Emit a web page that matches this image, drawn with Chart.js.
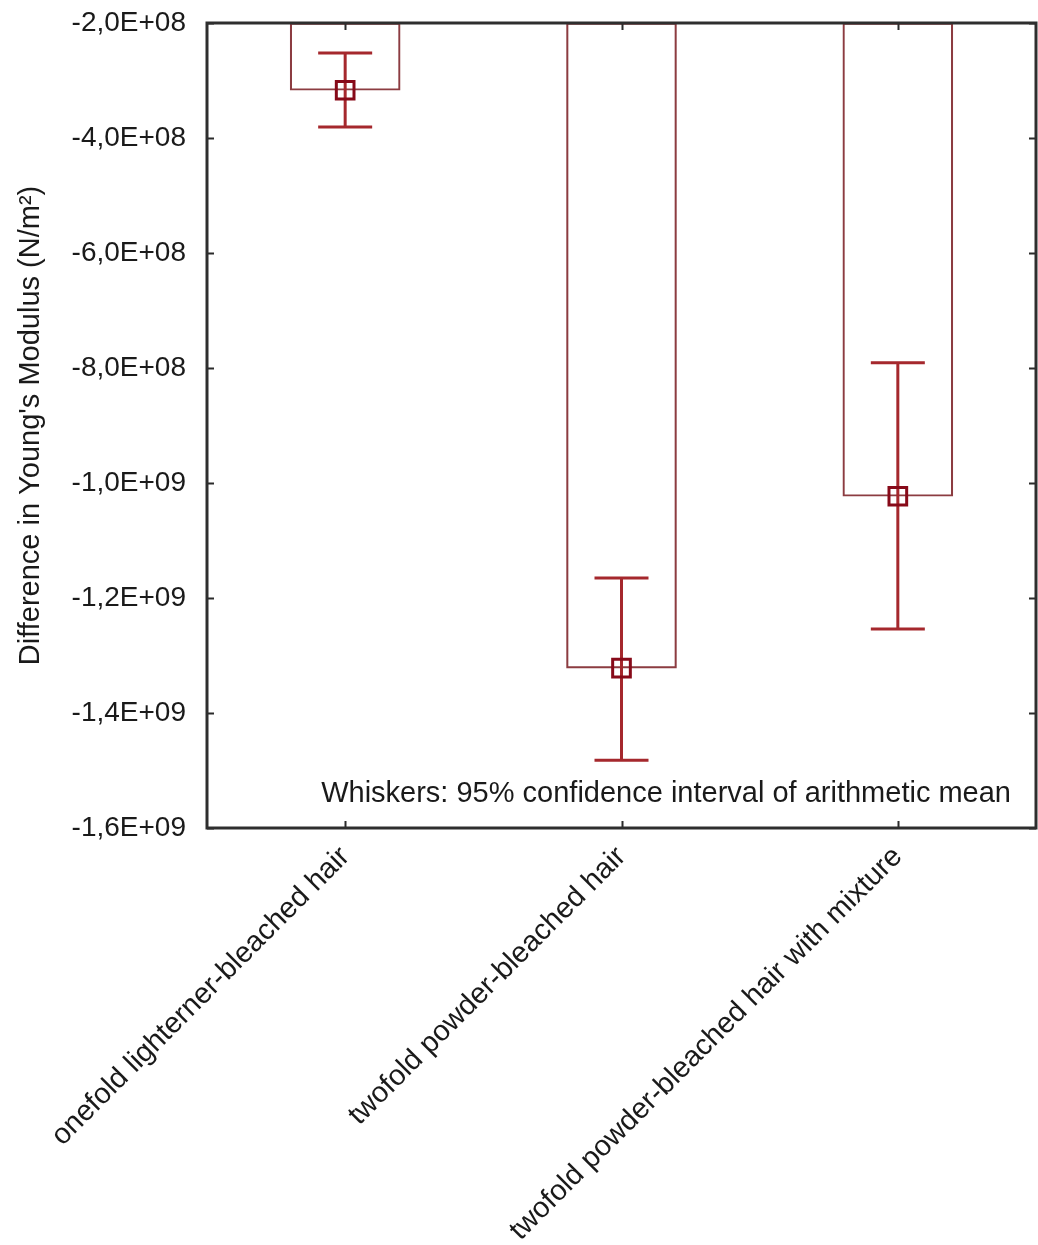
<!DOCTYPE html>
<html><head><meta charset="utf-8">
<script src="https://cdn.jsdelivr.net/npm/chart.js@4.4.0/dist/chart.umd.min.js"></script>
<style>html,body{margin:0;padding:0;background:#fff;} #wrap{width:1038px;height:1245px;position:relative;}</style>
</head><body><div id="wrap"><canvas id="c" width="1038" height="1245"></canvas></div>
<script>
const categories = ['onefold lighterner-bleached hair', 'twofold powder-bleached hair', 'twofold powder-bleached hair with mixture'];
const means = [-3.17e8, -1.322e9, -1.023e9];
const ciLower = [-3.81e8, -1.482e9, -1.254e9];
const ciUpper = [-2.52e8, -1.165e9, -7.91e8];
const yTickValues = [-1.6e9, -1.4e9, -1.2e9, -1.0e9, -8e8, -6e8, -4e8, -2e8];
const yTickLabels = ['-1,6E+09', '-1,4E+09', '-1,2E+09', '-1,0E+09', '-8,0E+08', '-6,0E+08', '-4,0E+08', '-2,0E+08'];
const yTitle = "Difference in Young's Modulus (N/m\u00B2)";
const note = 'Whiskers: 95% confidence interval of arithmetic mean';

const FONT = "'Liberation Sans', Arial, sans-serif";
const yMin = Math.min(...yTickValues), yMax = Math.max(...yTickValues);

const framePlugin = {
  id: 'frame',
  beforeDatasetDraw(chart, args) {
    if (args.index !== 1) return;
    const ctx = chart.ctx, x = chart.scales.x, y = chart.scales.y;
    ctx.save();
    ctx.strokeStyle = 'rgb(165,40,45)';
    ctx.lineWidth = 3;
    ctx.lineCap = 'butt';
    for (let i = 0; i < categories.length; i++) {
      const px = x.getPixelForValue(i);
      const top = y.getPixelForValue(ciUpper[i]);
      const bot = y.getPixelForValue(ciLower[i]);
      ctx.beginPath();
      ctx.moveTo(px, top); ctx.lineTo(px, bot);
      ctx.moveTo(px - 27, top); ctx.lineTo(px + 27, top);
      ctx.moveTo(px - 27, bot); ctx.lineTo(px + 27, bot);
      ctx.stroke();
    }
    ctx.restore();
  },
  afterDraw(chart) {
    const ctx = chart.ctx, a = chart.chartArea, x = chart.scales.x, y = chart.scales.y;
    ctx.save();
    ctx.strokeStyle = '#2b2b2b';
    ctx.lineWidth = 2;
    ctx.beginPath();
    y.ticks.forEach((t, i) => {
      const py = Math.round(y.getPixelForTick(i)) + 0.5;
      ctx.moveTo(a.left, py); ctx.lineTo(a.left + 7, py);
      ctx.moveTo(a.right, py); ctx.lineTo(a.right - 7, py);
    });
    x.ticks.forEach((t, i) => {
      const px = Math.round(x.getPixelForTick(i)) + 0.5;
      ctx.moveTo(px, a.bottom); ctx.lineTo(px, a.bottom - 7);
      ctx.moveTo(px, a.top); ctx.lineTo(px, a.top + 7);
    });
    ctx.stroke();
    ctx.lineWidth = 3;
    ctx.strokeStyle = '#2e2e2e';
    ctx.strokeRect(a.left, a.top, a.right - a.left, a.bottom - a.top);
    ctx.fillStyle = '#1a1a1a';
    ctx.font = '29px ' + FONT;
    ctx.textAlign = 'right';
    ctx.textBaseline = 'middle';
    ctx.fillText(note, a.right - 25, a.bottom - 34);
    ctx.restore();
  }
};

new Chart(document.getElementById('c'), {
  type: 'bar',
  data: {
    labels: categories,
    datasets: [
      {
        type: 'bar',
        data: means,
        base: yMax,
        backgroundColor: 'rgba(0,0,0,0)',
        borderColor: 'rgb(140,60,65)',
        borderWidth: 1.5,
        borderSkipped: false,
        barThickness: 110,
        order: 0
      },
      {
        type: 'line',
        data: means,
        showLine: false,
        pointStyle: 'rect',
        pointRadius: 12.5,
        pointHoverRadius: 12.5,
        pointBorderWidth: 3,
        pointBorderColor: 'rgb(135,10,25)',
        pointBackgroundColor: 'rgba(0,0,0,0)',
        order: -1
      }
    ]
  },
  options: {
    responsive: false,
    animation: false,
    events: [],
    layout: { autoPadding: false, padding: { top: 23, right: 2, left: 0, bottom: 0 } },
    plugins: { legend: { display: false }, tooltip: { enabled: false } },
    scales: {
      x: {
        grid: { display: false, drawTicks: false },
        border: { display: false },
        ticks: {
          maxRotation: 45, minRotation: 45, padding: 12,
          color: '#1a1a1a', font: { size: 29, family: FONT }
        },
        afterFit(s) { s.height = 1245 - 23 - 805; s.paddingLeft = 0; s.paddingRight = 0; }
      },
      y: {
        min: yMin, max: yMax,
        grid: { display: false, drawTicks: false },
        border: { display: false },
        afterBuildTicks(s) { s.ticks = yTickValues.map(v => ({ value: v })); },
        ticks: {
          padding: 21, color: '#1a1a1a', font: { size: 28, family: FONT },
          callback: (v, i) => yTickLabels[i]
        },
        title: {
          display: true, text: yTitle, color: '#1a1a1a',
          font: { size: 29, family: FONT }, padding: { top: 14, bottom: 0 }
        },
        afterFit(s) { s.width = 207; s.paddingTop = 0; s.paddingBottom = 0; }
      }
    }
  },
  plugins: [framePlugin]
});
</script></body></html>
